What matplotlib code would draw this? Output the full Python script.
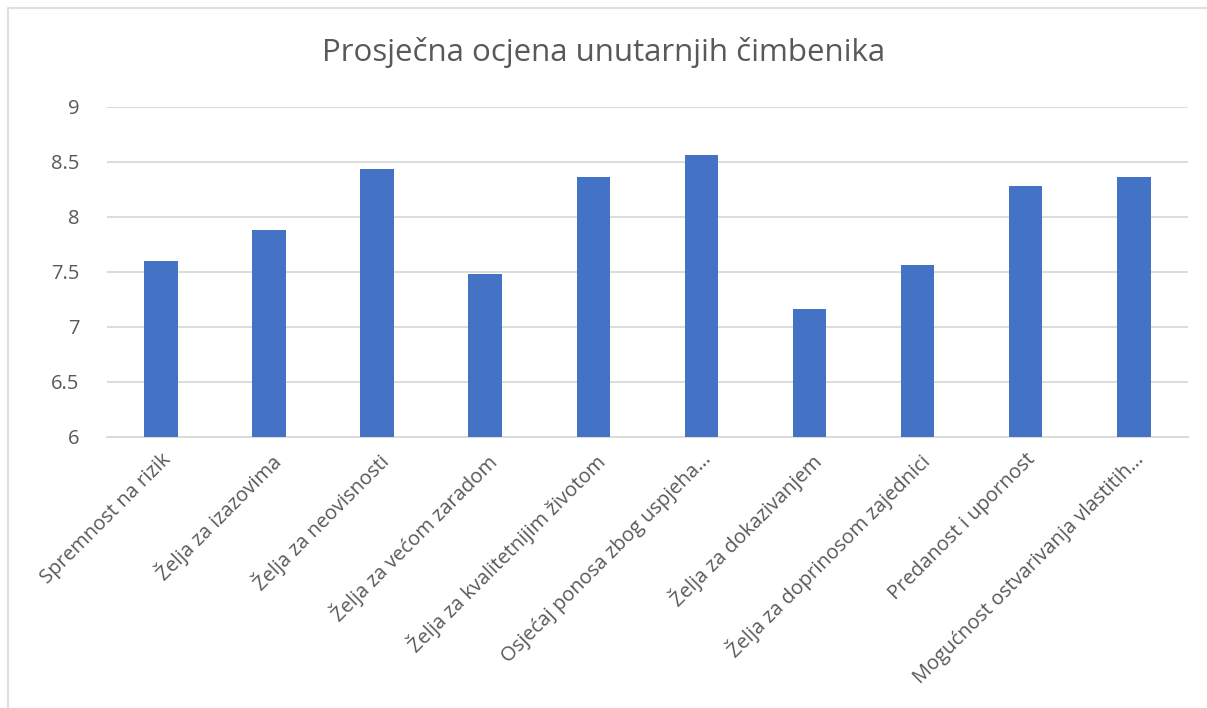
import matplotlib.pyplot as plt
from matplotlib.patches import Rectangle

# Prosječne ocjene unutarnjih čimbenika
categories = [
    'Spremnost na rizik',
    'Želja za izazovima',
    'Želja za neovisnosti',
    'Želja za većom zaradom',
    'Želja za kvalitetnijim životom',
    'Osjećaj ponosa zbog uspjeha…',
    'Želja za dokazivanjem',
    'Želja za doprinosom zajednici',
    'Predanost i upornost',
    'Mogućnost ostvarivanja vlastitih…',
]
scores = [7.60, 7.88, 8.44, 7.48, 8.36, 8.56, 7.16, 7.56, 8.28, 8.36]
y_ticks = [6, 6.5, 7, 7.5, 8, 8.5, 9]
y_tick_labels = ['6', '6.5', '7', '7.5', '8', '8.5', '9']

plt.rcParams['font.family'] = ['Open Sans', 'DejaVu Sans']
text_color = '#595959'

fig = plt.figure(figsize=(12.07, 7.08), dpi=100)
ax = fig.add_axes([0.0886, 0.3828, 0.8955, 0.4661])

x = range(len(categories))
ax.bar(x, scores, width=0.31, color='#4472C4', zorder=3)

ax.set_ylim(6, 9)
ax.set_xlim(-0.5, len(categories) - 0.5)
ax.set_yticks(y_ticks)
ax.set_yticklabels(y_tick_labels)
ax.set_xticks(list(x))
ax.set_xticklabels(categories, rotation=45, ha='right', rotation_mode='anchor')

ax.tick_params(axis='both', length=0, colors=text_color, labelsize=14.5)
ax.tick_params(axis='y', pad=20)
ax.tick_params(axis='x', pad=9)
ax.grid(axis='y', color='#D9D9D9', linewidth=1.3, zorder=0)
for side in ['top', 'right', 'left']:
    ax.spines[side].set_visible(False)
ax.spines['bottom'].set_color('#D9D9D9')
ax.spines['bottom'].set_linewidth(1.3)

fig.text(0.5, 1 - 53 / 708, 'Prosječna ocjena unutarnjih čimbenika',
         ha='center', va='center', fontsize=22.5, color=text_color)

# outer chart border
fig.patches.append(Rectangle((8 / 1207, -0.1), 1.1, 1.1 - 8 / 708,
                             transform=fig.transFigure, fill=False,
                             edgecolor='#D9D9D9', linewidth=1.2))

fig.savefig('out.png', dpi=100)
